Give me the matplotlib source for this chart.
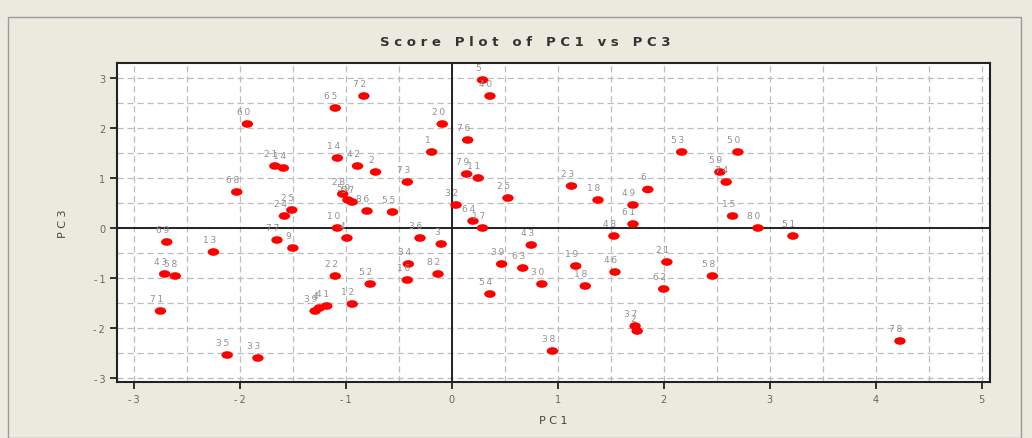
import matplotlib
matplotlib.use('Agg')
import matplotlib.pyplot as plt
from matplotlib.path import Path
from matplotlib.patches import Rectangle
from matplotlib.ticker import MultipleLocator

# Score values (PC1, PC3) and sample labels
labels = ['60', '65', '21', '14', '68', '14', '72', '5', '40', '20',
          '76', '1', '42', '2', '73', '79', '11', '53', '50', '59',
          '74', '23', '6', '18', '49', '61', '48', '15', '80', '19',
          '46', '21', '58', '18', '62', '51', '25', '24', '69', '13',
          '77', '9', '43', '58', '10', '22', '28', '57', '59', '86',
          '55', '32', '64', '17', '25', '4', '36', '3', '34', '16',
          '82', '39', '63', '43', '30', '54', '52', '12', '38', '71',
          '35', '33', '39', '4', '41', '37', '2', '78']
pc1 = [-1.93, -1.10, -1.67, -1.59, -2.03, -1.08, -0.83, 0.29, 0.36, -0.09,
       0.15, -0.19, -0.89, -0.72, -0.42, 0.14, 0.25, 2.17, 2.70, 2.53,
       2.59, 1.13, 1.85, 1.38, 1.71, 1.71, 1.53, 2.65, 2.89, 1.17,
       1.54, 2.03, 2.46, 1.26, 2.00, 3.22, -1.51, -1.58, -2.69, -2.25,
       -1.65, -1.50, -2.71, -2.61, -1.08, -1.10, -1.03, -0.94, -0.98, -0.80,
       -0.56, 0.04, 0.20, 0.29, 0.53, -0.99, -0.30, -0.10, -0.41, -0.42,
       -0.13, 0.47, 0.67, 0.75, 0.85, 0.36, -0.77, -0.94, 0.95, -2.75,
       -2.12, -1.83, -1.29, -1.25, -1.18, 1.73, 1.75, 4.23]
pc3 = [2.08, 2.40, 1.24, 1.20, 0.72, 1.40, 2.64, 2.96, 2.64, 2.08,
       1.76, 1.52, 1.24, 1.12, 0.92, 1.08, 1.00, 1.52, 1.52, 1.12,
       0.92, 0.84, 0.77, 0.56, 0.46, 0.08, -0.16, 0.24, 0.00, -0.76,
       -0.88, -0.68, -0.96, -1.16, -1.22, -0.16, 0.36, 0.24, -0.28, -0.48,
       -0.24, -0.40, -0.92, -0.96, 0.00, -0.96, 0.68, 0.52, 0.56, 0.34,
       0.32, 0.46, 0.14, 0.00, 0.60, -0.20, -0.20, -0.32, -0.72, -1.04,
       -0.92, -0.72, -0.80, -0.34, -1.12, -1.32, -1.12, -1.52, -2.46, -1.66,
       -2.54, -2.60, -1.66, -1.60, -1.56, -1.96, -2.06, -2.26]

x_ticks = [-3, -2, -1, 0, 1, 2, 3, 4, 5]
y_ticks = [-3, -2, -1, 0, 1, 2, 3]


def spaced(s, sep='\u2009'):
    return sep.join(s)


# wide ellipse marker like the original
ellipse = Path.unit_circle().transformed(
    matplotlib.transforms.Affine2D().scale(1.5, 1.0))

bg = '#ECE9DF'
fig = plt.figure(figsize=(10.32, 4.39), dpi=100, facecolor=bg)
fig.patches.append(Rectangle((8 / 1032, 0), 1013 / 1032, 1 - 18 / 439,
                             transform=fig.transFigure, fill=False,
                             edgecolor='#9a9a9a', linewidth=1.0))
ax = fig.add_axes([117 / 1032, 1 - 383 / 439, 873 / 1032, 319 / 439])
ax.set_facecolor('white')

ax.set_xlim(-3.16, 5.08)
ax.set_ylim(-3.08, 3.3)
ax.xaxis.set_major_locator(MultipleLocator(1))
ax.yaxis.set_major_locator(MultipleLocator(1))
ax.xaxis.set_minor_locator(MultipleLocator(0.5))
ax.yaxis.set_minor_locator(MultipleLocator(0.5))
ax.grid(True, which='both', color='#bdbdbd', linestyle=(0, (5, 3)),
        linewidth=0.9)
ax.set_axisbelow(True)
ax.axhline(0, color='#222222', linewidth=1.4, zorder=1)
ax.axvline(0, color='#222222', linewidth=1.4, zorder=1)

ax.scatter(pc1, pc3, marker=ellipse, s=68, color='#ff0000',
           edgecolors='none', zorder=3)
for lab, x, y in zip(labels, pc1, pc3):
    ax.annotate(spaced(lab), (x, y), xytext=(-3, 6),
                textcoords='offset points', ha='center', va='bottom',
                fontsize=6.5, color='#919191', zorder=4)

ax.set_xticks(x_ticks)
ax.set_yticks(y_ticks)
ax.set_xticklabels([spaced(str(t)) for t in x_ticks])
ax.set_yticklabels([spaced(str(t)) for t in y_ticks])
ax.tick_params(which='major', direction='out', length=5, width=1.3,
               labelsize=7, labelcolor='#666666', color='#222222')
ax.tick_params(which='minor', length=0)
for sp in ax.spines.values():
    sp.set_color('#222222')
    sp.set_linewidth(1.5)

ax.set_xlabel('P C 1', fontsize=8, color='#444444', labelpad=8)
ax.set_ylabel('P C 3', fontsize=8, color='#444444', labelpad=18)
fig.text(525 / 1032, 1 - 42 / 439, 'S c o r e   P l o t   o f   P C 1   v s   P C 3',
         ha='center', va='center', fontsize=9.5, fontweight='bold',
         color='#333333')

fig.savefig('out.png', dpi=100, facecolor=bg)
